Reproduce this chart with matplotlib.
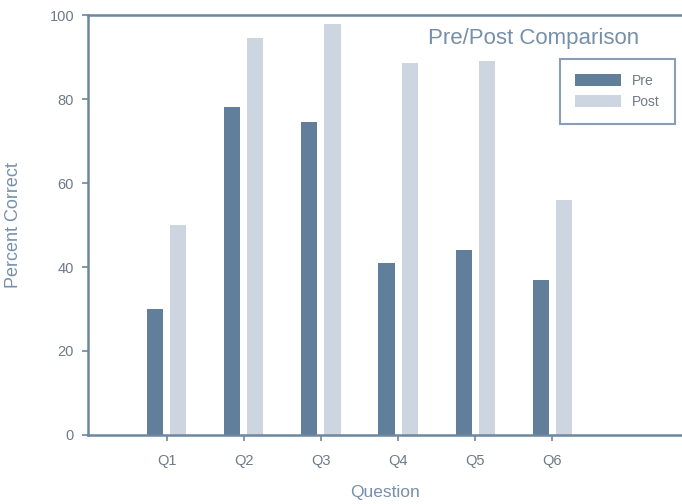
import numpy as np
import matplotlib
matplotlib.use('Agg')
import matplotlib.pyplot as plt

plt.rcParams['font.family'] = ['Liberation Sans', 'DejaVu Sans']

# Quiz results, percent correct per question
questions = ['Q1', 'Q2', 'Q3', 'Q4', 'Q5', 'Q6']
pre_scores = [30, 78, 74.5, 41, 44, 37]
post_scores = [50, 94.5, 98, 88.5, 89, 56]

COL_PRE = '#617f9b'
COL_POST = '#cdd6e0'
COL_AXIS = '#6c87a0'
COL_TEXT = '#6f7a86'
COL_TITLE = '#7690aa'

fig = plt.figure(figsize=(6.82, 5.04), dpi=100)
ax = fig.add_axes([0.129, 0.137, 0.871, 0.833])

x = np.arange(len(questions))
width = 0.21
ax.bar(x - 0.15, pre_scores, width, color=COL_PRE, label='Pre')
ax.bar(x + 0.15, post_scores, width, color=COL_POST, label='Post')

ax.set_xlim(-1.02, 6.68)
ax.set_ylim(0, 100)
ax.set_yticks([0, 20, 40, 60, 80, 100])
ax.set_xticks(x)
ax.set_xticklabels(questions)

for side in ['left', 'bottom', 'top']:
    ax.spines[side].set_color(COL_AXIS)
    ax.spines[side].set_linewidth(1.8)
ax.spines['right'].set_visible(False)
ax.tick_params(colors=COL_AXIS, labelcolor=COL_TEXT, labelsize=10.5, length=4, width=1.2)
ax.tick_params(axis='x', pad=10)
ax.tick_params(axis='y', pad=6)

ax.set_xlabel('Question', color=COL_TITLE, fontsize=12.5, labelpad=12)
ax.set_ylabel('Percent Correct', color=COL_TITLE, fontsize=13, labelpad=20)

ax.text(0.75, 0.945, 'Pre/Post Comparison', transform=ax.transAxes,
        ha='center', va='center', color=COL_TITLE, fontsize=16)

leg = ax.legend(loc='upper right', bbox_to_anchor=(0.993, 0.903), borderaxespad=0.2,
                fontsize=10, frameon=True, fancybox=False, edgecolor=COL_AXIS,
                handlelength=3.3, handleheight=0.9, labelcolor=COL_TEXT,
                borderpad=1.1, labelspacing=0.5, handletextpad=0.8)
leg.get_frame().set_linewidth(1.5)

fig.savefig('out.png', dpi=100)
